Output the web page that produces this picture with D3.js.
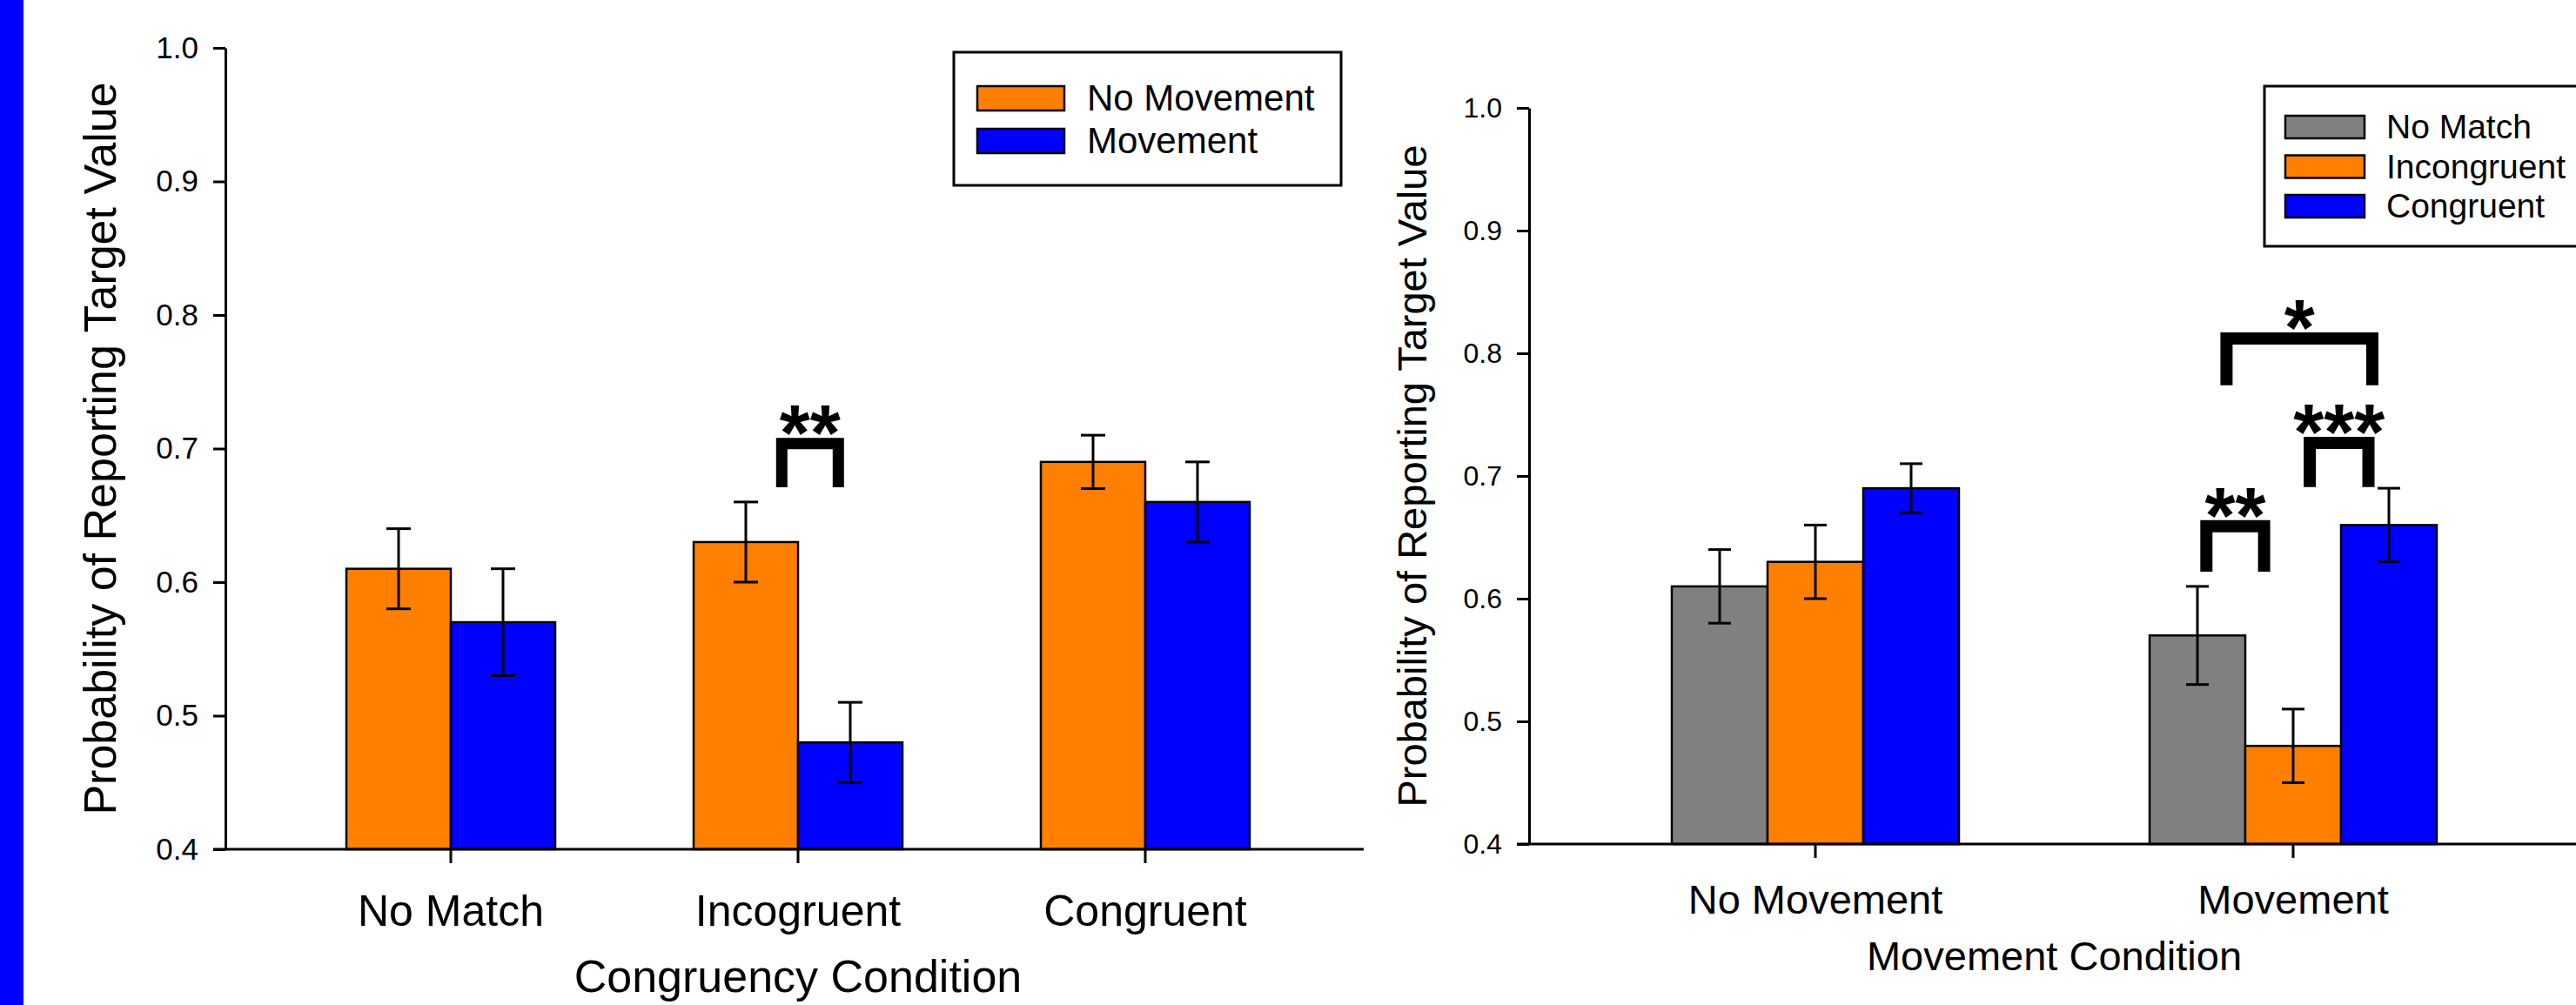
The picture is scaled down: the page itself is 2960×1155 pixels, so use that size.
<!DOCTYPE html>
<html>
<head>
<meta charset="utf-8">
<script src="https://cdn.jsdelivr.net/npm/d3@7"></script>
<style>
  body { margin: 0; background: #fff; }
  svg { display: block; font-family: "Liberation Sans", Arial, sans-serif; }
</style>
</head>
<body>
<svg id="chart" width="2960" height="1155"></svg>
<script>
// values (means and standard errors)
var yTicks = [0.4, 0.5, 0.6, 0.7, 0.8, 0.9, 1.0];

var leftCats = ["No Match", "Incogruent", "Congruent"];
var leftSeries = ["No Movement", "Movement"];
var leftMeans = [[0.61, 0.57], [0.63, 0.48], [0.69, 0.66]];
var leftErrs = [[0.03, 0.04], [0.03, 0.03], [0.02, 0.03]];
// significance brackets: group, from/to in bar widths from group centre, top value, leg bottom value
var leftSig = [{ cat: "Incogruent", from: -0.21, to: 0.44, top: 0.708, bottom: 0.671, label: "**" }];

var rightCats = ["No Movement", "Movement"];
var rightSeries = ["No Match", "Incongruent", "Congruent"];
var rightMeans = [[0.61, 0.63, 0.69], [0.57, 0.48, 0.66]];
var rightErrs = [[0.03, 0.03, 0.02], [0.04, 0.03, 0.03]];
var rightSig = [
    { cat: "Movement", from: -0.97, to: -0.24, top: 0.664, bottom: 0.622, label: "**" },
    { cat: "Movement", from: 0.11, to: 0.85, top: 0.732, bottom: 0.691, label: "***" },
    { cat: "Movement", from: -0.76, to: 0.89, top: 0.817, bottom: 0.774, label: "*" }
];

var colors = { "No Movement": "#FF7F00", "Movement": "#0000FF",
               "No Match": "#808080", "Incongruent": "#FF7F00", "Congruent": "#0000FF" };

var svg = d3.select("#chart");

// blue strip on the far left edge
svg.append("rect").attr("x", 0).attr("y", 0).attr("width", 27).attr("height", 1155).attr("fill", "#0000FF");

function drawPanel(cfg) {
    var g = svg.append("g");
    var y = d3.scaleLinear().domain([0.4, 1.0]).range([cfg.y0, cfg.y1]);
    var x0 = d3.scaleBand().domain(cfg.cats).range(cfg.bandRange).padding(0);
    var nb = cfg.series.length;
    var x1 = d3.scaleBand().domain(cfg.series).range([-cfg.barW * nb / 2, cfg.barW * nb / 2]);
    var cx = function (c) { return x0(c) + x0.bandwidth() / 2; };

    var rows = [];
    cfg.cats.forEach(function (c, i) {
        cfg.series.forEach(function (s, j) {
            rows.push({ cat: c, ser: s, v: cfg.means[i][j], e: cfg.errs[i][j] });
        });
    });

    // bars
    g.selectAll("rect.bar").data(rows).enter().append("rect")
        .attr("class", "bar")
        .attr("x", function (d) { return cx(d.cat) + x1(d.ser); })
        .attr("width", x1.bandwidth())
        .attr("y", function (d) { return y(d.v); })
        .attr("height", function (d) { return y(0.4) - y(d.v); })
        .attr("fill", function (d) { return colors[d.ser]; })
        .attr("stroke", "#000").attr("stroke-width", 2.5);

    // error bars
    var eb = g.selectAll("g.err").data(rows).enter().append("g").attr("class", "err")
        .attr("stroke", "#000").attr("stroke-width", 3);
    var mid = function (d) { return cx(d.cat) + x1(d.ser) + x1.bandwidth() / 2; };
    eb.append("line")
        .attr("x1", mid).attr("x2", mid)
        .attr("y1", function (d) { return y(d.v - d.e); })
        .attr("y2", function (d) { return y(d.v + d.e); });
    [-1, 1].forEach(function (sgn) {
        eb.append("line")
            .attr("x1", function (d) { return mid(d) - cfg.cap / 2; })
            .attr("x2", function (d) { return mid(d) + cfg.cap / 2; })
            .attr("y1", function (d) { return y(d.v + sgn * d.e); })
            .attr("y2", function (d) { return y(d.v + sgn * d.e); });
    });

    // y axis
    var yAxis = d3.axisLeft(y).tickValues(yTicks).tickFormat(d3.format(".1f"))
        .tickSize(14).tickSizeOuter(0).tickPadding(cfg.tickPad);
    var ya = g.append("g").attr("transform", "translate(" + cfg.x + ",0)").call(yAxis);
    ya.select(".domain").attr("stroke-width", 3);
    ya.selectAll(".tick line").attr("stroke-width", 3);
    ya.selectAll(".tick text").attr("font-size", cfg.tickFont).attr("fill", "#000")
        .attr("font-family", "Liberation Sans, Arial, sans-serif");

    // x axis
    var xAxis = d3.axisBottom(x0).tickSize(16).tickSizeOuter(0);
    var xa = g.append("g").attr("transform", "translate(0," + y(0.4) + ")").call(xAxis);
    xa.select(".domain").remove();
    xa.append("line").attr("x1", cfg.x - 14).attr("x2", cfg.xEnd)
        .attr("stroke", "#000").attr("stroke-width", 3);
    xa.selectAll(".tick line").attr("stroke-width", 3).attr("y1", 0);
    xa.selectAll(".tick text").attr("font-size", cfg.catFont).attr("fill", "#000")
        .attr("font-family", "Liberation Sans, Arial, sans-serif")
        .attr("y", cfg.catDy).attr("dy", 0);

    // axis titles
    g.append("text").attr("x", (cfg.bandRange[0] + cfg.bandRange[1]) / 2).attr("y", cfg.xTitleY)
        .attr("text-anchor", "middle").attr("font-size", cfg.titleFont).text(cfg.xTitle);
    g.append("text")
        .attr("transform", "translate(" + cfg.yTitleX + "," + ((cfg.y0 + cfg.y1) / 2) + ") rotate(-90)")
        .attr("text-anchor", "middle").attr("font-size", cfg.yTitleFont)
        .text("Probability of Reporting Target Value");

    // significance brackets
    cfg.sig.forEach(function (s) {
        var half = cfg.sigW / 2;
        var xa1 = cx(s.cat) + s.from * cfg.barW + half;
        var xa2 = cx(s.cat) + s.to * cfg.barW - half;
        var yt = y(s.top) + half;
        g.append("path")
            .attr("d", "M" + xa1 + "," + y(s.bottom) + "V" + yt + "H" + xa2 + "V" + y(s.bottom))
            .attr("fill", "none").attr("stroke", "#000").attr("stroke-width", cfg.sigW);
        g.append("text").attr("x", (xa1 + xa2) / 2).attr("y", y(s.top) + 26)
            .attr("text-anchor", "middle").attr("font-size", 90).attr("font-weight", "bold")
            .text(s.label);
    });

    // legend
    var lg = g.append("g");
    lg.append("rect").attr("x", cfg.leg.x).attr("y", cfg.leg.y)
        .attr("width", cfg.leg.w).attr("height", cfg.leg.h)
        .attr("fill", "#fff").attr("stroke", "#000").attr("stroke-width", 3);
    cfg.series.forEach(function (s, i) {
        var ry = cfg.leg.firstY + i * cfg.leg.step;
        lg.append("rect").attr("x", cfg.leg.sx).attr("y", ry)
            .attr("width", cfg.leg.sw).attr("height", cfg.leg.sh)
            .attr("fill", colors[s]).attr("stroke", "#000").attr("stroke-width", 2.5);
        lg.append("text").attr("x", cfg.leg.tx).attr("y", ry + cfg.leg.sh)
            .attr("font-size", cfg.leg.font).text(s);
    });
}

drawPanel({
    cats: leftCats, series: leftSeries, means: leftMeans, errs: leftErrs, sig: leftSig,
    x: 259, xEnd: 1567, y0: 976, y1: 55, bandRange: [318.5, 1515.5], barW: 120, cap: 28,
    tickFont: 35, tickPad: 17, catFont: 50, catDy: 88, titleFont: 52, xTitle: "Congruency Condition",
    xTitleY: 1140, yTitleX: 133, yTitleFont: 52, sigW: 13,
    leg: { x: 1096, y: 60, w: 445, h: 153, sx: 1123, sw: 100, sh: 28, firstY: 99, step: 49, tx: 1249, font: 42 }
});

drawPanel({
    cats: rightCats, series: rightSeries, means: rightMeans, errs: rightErrs, sig: rightSig,
    x: 1757, xEnd: 2960, y0: 970, y1: 124, bandRange: [1811.5, 2909.5], barW: 110, cap: 26,
    tickFont: 32, tickPad: 17, catFont: 47, catDy: 80, titleFont: 47, xTitle: "Movement Condition",
    xTitleY: 1115, yTitleX: 1639, yTitleFont: 47, sigW: 14,
    leg: { x: 2602, y: 99, w: 400, h: 184, sx: 2626, sw: 91, sh: 26, firstY: 133, step: 45.5, tx: 2742, font: 39 }
});
</script>
</body>
</html>
